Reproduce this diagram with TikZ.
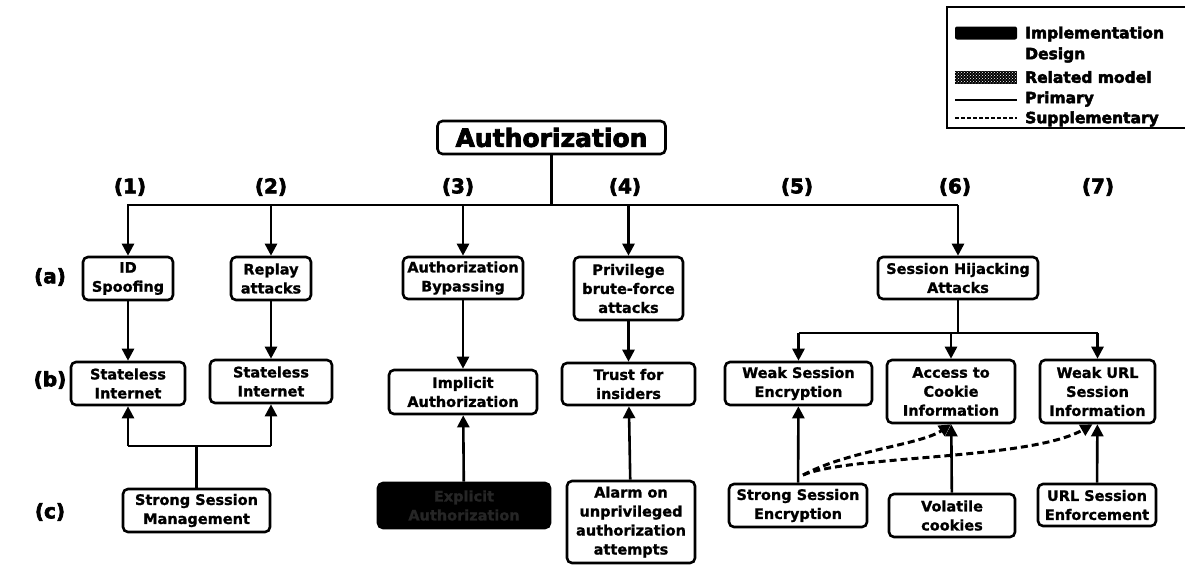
\documentclass[tikz,border=0pt]{standalone}
\usepackage{fontspec}
\setmainfont{DejaVu Sans}
\newfontfamily\nodefont{DejaVu Sans Bold}[FakeBold=1.2]
\newfontfamily\heavyfont{DejaVu Sans Bold}[FakeBold=3]
\usetikzlibrary{arrows.meta,patterns}

\tikzset{
  box/.style={draw, line width=2.6pt, rounded corners=5pt, align=center,
    inner sep=1pt, fill=white,
    font=\fontsize{14.5}{19}\selectfont\nodefont},
  implbox/.style={box, fill=black, text=black!85},
  wire/.style={line width=2.6pt},
  arr/.style={wire, -{Triangle[width=12pt,length=12pt]}},
  supp/.style={line width=3pt, dash pattern=on 7pt off 4pt,
    -{Triangle[width=12pt,length=12pt]}},
  col/.style={font=\fontsize{20}{22}\selectfont\heavyfont},
  legtext/.style={anchor=west, inner sep=0pt,
    font=\fontsize{15.5}{17}\selectfont\heavyfont},
}

\begin{document}
\begin{tikzpicture}[x=1pt, y=-1pt]
\useasboundingbox (0,0) rectangle (1185,566);

% root and the numbered bus
\node[box, minimum width=228, minimum height=33,
  font=\fontsize{25}{28}\selectfont\heavyfont] (auth) at (551.5,137.5) {Authorization};
\coordinate (busL) at (127,205);
\coordinate (busR) at (958,205);

\foreach \n/\x in {1/130,2/271,3/458,4/625,5/797,6/955,7/1098}
  \node[col] (num\n) at (\x,187) {(\n)};

\foreach \r/\y in {a/277,b/380,c/512}
  \node[col] (row\r) at (50,\y) {(\r)};

% row (a): threats
\node[box, minimum width=90,  minimum height=43] (idspoof) at (128,278.5) {ID\\Spoofing};
\node[box, minimum width=80,  minimum height=43] (replay)  at (271,278.5) {Replay\\attacks};
\node[box, minimum width=120, minimum height=42] (bypass)  at (463,278)   {Authorization\\Bypassing};
\node[box, minimum width=109, minimum height=63] (priv)    at (628.5,288.5) {Privilege\\brute-force\\attacks};
\node[box, minimum width=160, minimum height=42] (hijack)  at (958,278)   {Session Hijacking\\Attacks};

% row (b): causes
\node[box, minimum width=114, minimum height=43] (sl1)      at (128,383.5)   {Stateless\\Internet};
\node[box, minimum width=122, minimum height=43] (sl2)      at (271,381.5)   {Stateless\\Internet};
\node[box, minimum width=148, minimum height=44] (implicit) at (463,392)     {Implicit\\Authorization};
\node[box, minimum width=133, minimum height=42] (trust)    at (628.5,384)   {Trust for\\insiders};
\node[box, minimum width=147, minimum height=43] (weakenc)  at (798.5,383.5) {Weak Session\\Encryption};
\node[box, minimum width=128, minimum height=63] (cookie)   at (951,391.5)   {Access to\\Cookie\\Information};
\node[box, minimum width=115, minimum height=63] (weakurl)  at (1097.5,391.5) {Weak URL\\Session\\Information};

% row (c): countermeasures
\node[box, minimum width=147, minimum height=43] (ssm)      at (196.5,510.5) {Strong Session\\Management};
\node[implbox, minimum width=172, minimum height=45] (explicit) at (464,505.5) {Explicit\\Authorization};
\node[box, minimum width=128, minimum height=82] (alarm)    at (631,522)     {Alarm on\\unprivileged\\authorization\\attempts};
\node[box, minimum width=138, minimum height=43] (sse)      at (798,505.5)   {Strong Session\\Encryption};
\node[box, minimum width=126, minimum height=43] (volatile) at (952,515.5)   {Volatile\\cookies};
\node[box, minimum width=118, minimum height=42] (urlenf)   at (1097,505)    {URL Session\\Enforcement};

% tree from the root
\draw[wire] (auth.south) -- (auth.south |- busL);
\draw[wire] (busL) -- (busR);
\foreach \t in {idspoof,replay,bypass,priv,hijack}
  \draw[arr] (\t.north |- busL) -- (\t.north);

\draw[arr] (idspoof) -- (sl1);
\draw[arr] (replay)  -- (sl2);
\draw[arr] (bypass)  -- (implicit);
\draw[arr] (priv)    -- (trust);

% session hijacking branches
\coordinate (hj) at (958,333);
\draw[wire] (hijack.south) -- (hj);
\draw[wire] (hj -| weakenc.north) -- (hj -| weakurl.north);
\draw[arr] (hj -| weakenc.north) -- (weakenc.north);
\draw[arr] (hj -| cookie.north)  -- (cookie.north);
\draw[arr] (hj -| weakurl.north) -- (weakurl.north);

% strong session management fork
\coordinate (sf) at (196.5,446);
\draw[wire] (ssm.north) -- (sf);
\draw[wire] (sf -| sl1.south) -- (sf -| sl2.south);
\draw[arr] (sf -| sl1.south) -- (sl1.south);
\draw[arr] (sf -| sl2.south) -- (sl2.south);

% countermeasures upward
\draw[arr] (explicit) -- (implicit);
\draw[arr] (alarm)    -- (trust);
\draw[arr] (sse)      -- (weakenc);
\draw[arr] (volatile) -- (cookie);
\draw[arr] (urlenf)   -- (weakurl);

% supplementary links
\coordinate (ssetop) at (803,475);
\draw[supp] (ssetop) .. controls (850,450) and (920,445) .. (cookie.south);
\draw[supp] (ssetop) .. controls (850,455) and (1030,460) .. ([xshift=-5pt]weakurl.south);

% legend
\draw[line width=2.4pt] (947,128) -- (947,7) -- (1195,7) -- (1195,128) -- cycle;
\node[draw=none, fill=black, rounded corners=2pt, minimum width=62, minimum height=13, inner sep=0pt] (lgimpl) at (986,33) {};
\fill[black] (955,71) rectangle (1017,84);
\fill[pattern=crosshatch dots, pattern color=white] (955,71) rectangle (1017,84);
\coordinate (lgp1) at (955,100);
\coordinate (lgp2) at (1017,100);
\coordinate (lgs1) at (955,118);
\coordinate (lgs2) at (1017,118);
\draw[line width=2.6pt] (lgp1) -- (lgp2);
\draw[line width=2.6pt, dash pattern=on 4pt off 2pt] (lgs1) -- (lgs2);
\node[legtext] (ltimpl) at (1025,34)  {Implementation};
\node[legtext] (ltdes)  at (1025,55)  {Design};
\node[legtext] (ltrel)  at (1025,77)  {Related model};
\node[legtext] (ltpri)  at (1025,99)  {Primary};
\node[legtext] (ltsup)  at (1025,119) {Supplementary};
\end{tikzpicture}
\end{document}
